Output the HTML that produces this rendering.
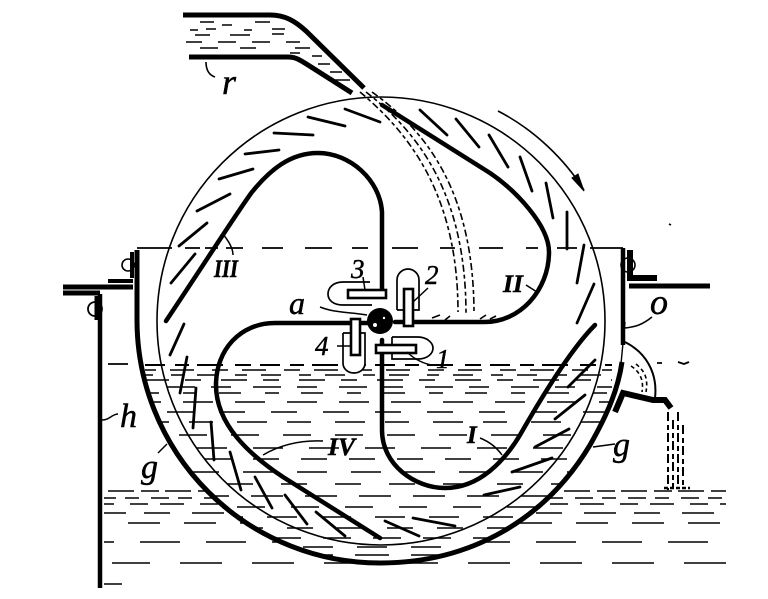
<!DOCTYPE html>
<html><head><meta charset="utf-8"><title>Water wheel diagram</title>
<style>html,body{margin:0;padding:0;background:#fff;width:768px;height:599px;overflow:hidden}svg{display:block}
text{font-family:"Liberation Serif",serif;font-style:italic;fill:#000;stroke:#000;stroke-width:.5}</style></head>
<body>
<svg width="768" height="599" viewBox="0 0 768 599" xmlns="http://www.w3.org/2000/svg">
<defs>
<clipPath id="inH"><path d="M141,362H622C618,390 607,415 590,445C545,520 470,563 380,563A243,243 0 0 1 141,362Z"/></clipPath>
<clipPath id="outH"><path clip-rule="evenodd" d="M100,486H740V599H100Z M137,320A243,243 0 0 0 380,563C470,563 545,520 590,445V320Z"/></clipPath>
</defs>
<rect width="768" height="599" fill="#fff"/>
<!-- inner water -->
<g clip-path="url(#inH)" stroke="#000" stroke-width="1.6" fill="none">
<path stroke-width="2" stroke-dasharray="20 10 14 8 26 12 16 9" d="M145,365H612"/>
<path stroke-dasharray="16 14 24 18" stroke-dashoffset="5" d="M145,370H612"/>
<path stroke-dasharray="20 18 12 14" stroke-dashoffset="12" d="M145,375H612"/>
<path stroke-dasharray="26 16 16 20" stroke-dashoffset="2" d="M145,380H612"/>
<path stroke-dasharray="20 22 28 16" stroke-dashoffset="20" d="M145,387H612"/>
<path stroke-dasharray="22 24 14 22" stroke-dashoffset="8" d="M145,393H612"/>
<path stroke-dasharray="30 22" stroke-dashoffset="14" d="M145,402H612"/>
<path stroke-dasharray="26 26" stroke-dashoffset="30" d="M145,412H612"/>
<path stroke-dasharray="30 20 24 24" stroke-dashoffset="6" d="M145,422H612"/>
<path stroke-dasharray="28 24" stroke-dashoffset="18" d="M145,435H612"/>
<path stroke-dasharray="30 26" stroke-dashoffset="4" d="M145,448H612"/>
<path stroke-dasharray="26 22" stroke-dashoffset="36" d="M145,459H612"/>
<path stroke-dasharray="30 24" stroke-dashoffset="10" d="M145,472H612"/>
<path stroke-dasharray="26 28" stroke-dashoffset="26" d="M145,484H612"/>
<path stroke-dasharray="32 22" stroke-dashoffset="2" d="M145,496H612"/>
<path stroke-dasharray="28 26" stroke-dashoffset="16" d="M145,507H612"/>
<path stroke-dasharray="30 24" stroke-dashoffset="40" d="M145,517H612"/>
<path stroke-dasharray="26 24" stroke-dashoffset="8" d="M145,528H612"/>
<path stroke-dasharray="28 22" stroke-dashoffset="22" d="M145,538H612"/>
<path stroke-dasharray="30 24" stroke-dashoffset="4" d="M145,547H612"/>
<path stroke-dasharray="34 22" stroke-dashoffset="14" d="M145,555H612"/>
</g>
<!-- outer water -->
<g clip-path="url(#outH)" stroke="#000" stroke-width="1.6" fill="none">
<path stroke-dasharray="26 7 18 6" d="M108,491H726"/>
<path stroke-dasharray="18 9 14 12" stroke-dashoffset="6" d="M104,498H726"/>
<path stroke-dasharray="24 16 18 12" stroke-dashoffset="14" d="M104,504H726"/>
<path stroke-dasharray="32 18 26 22" stroke-dashoffset="10" d="M104,513H726"/>
<path stroke-dasharray="32 24" stroke-dashoffset="40" d="M112,523H726"/>
<path stroke-dasharray="40 26" stroke-dashoffset="30" d="M104,542H718"/>
<path stroke-dasharray="42 30" stroke-dashoffset="4" d="M112,563H730"/>
<path d="M104,584H122"/>
</g>
<!-- level dashes -->
<g stroke="#000" stroke-width="1.8" fill="none">
<path d="M137,248H172M185,248H200M205,248H218M226,248H243M262,248H283M305,248H332M352,248H368M392,248H418M440,248H455M479,248H503M526,248H538M557,248H577M590,248H623"/>
<path d="M108,364H128M657,363H662M678,362L684,364L689,362M669,224L671,225"/>
</g>
<!-- wheel -->
<circle cx="381" cy="321" r="224" fill="none" stroke="#000" stroke-width="1.6"/>
<!-- hull -->
<path d="M137,250V320A243,243 0 0 0 380,563C470,563 545,520 590,445C607,415 618,390 622,362" fill="none" stroke="#000" stroke-width="5"/>
<path d="M623,248V345" stroke="#000" stroke-width="4.5" fill="none"/>
<path d="M625,322L621,364" stroke="#000" stroke-width="1.4" fill="none"/>
<!-- blades -->
<g fill="none" stroke="#000" stroke-width="4.5" stroke-linecap="round" stroke-linejoin="round">
<path d="M382,296V212C380,180 350,153 318,153C290,153 270,170 252,192C240,208 210,255 166,321"/>
<path d="M370,323H275C240,323 216,350 216,385C216,425 250,455 283,477L380,538"/>
<path d="M382,340V430C382,465 415,488 445,488C480,488 505,460 520,435C540,400 570,350 595,325"/>
<path d="M395,322H483C520,323 549,290 549,252C549,225 515,190 490,173L382,105"/>
</g>
<!-- vanes -->
<g stroke="#000" stroke-width="2.8" stroke-linecap="round" fill="none">
<path d="M345,109L380,122M308,117L345,126M274,133L313,135M245,154L279,150M219,179L253,169M197,211L230,194M179,246L207,223M171,283L195,254M170,355L184,324M180,393L187,357M193,428L196,388M211,422L214,460M230,452L241,490M255,477L272,508M285,495L307,524M316,512L345,536M385,521L419,536M413,518L455,526M484,495L520,487M512,472L552,458M535,447L569,429M555,419L585,395M568,387L595,360M577,323L594,284M577,283L584,245M567,212V249M546,183L553,218M520,157L532,191M489,135L508,167M456,119L479,147M420,110L447,135"/>
</g>
<!-- trough r -->
<g fill="none" stroke="#000" stroke-linejoin="round">
<path d="M183,15H270C285,15 295,21 306,31L364,88" stroke-width="5"/>
<path d="M189,57H288C296,57 300,60 308,65L352,93" stroke-width="5"/>
<g stroke-width="1.6">
<path d="M200,22H214M222,25H232M255,22H270M190,30H198M206,29H216M244,30H252M272,29H285M195,35H210M230,35H250M272,34H284M186,42H202M218,42H236M252,42H270M286,42H300M200,48H218M240,48H256M295,48H310M290,53H300M312,56H322M318,64H330M330,72H342M335,80H350"/>
</g>
<path d="M206,62C206,70 209,75 215,77" stroke-width="1.6"/>
</g>
<!-- falling water -->
<g fill="none" stroke="#000" stroke-width="1.6" stroke-dasharray="7 3 4 3">
<path d="M360,92C405,130 458,190 458,312"/>
<path d="M366,92C415,130 466,190 466,314"/>
<path d="M372,92C425,130 474,190 474,314"/>
</g>
<path d="M432,318L440,315M445,320L450,316M480,319L486,315M490,319L496,316" stroke="#000" stroke-width="1.6"/>
<!-- arrow -->
<path d="M498,111C535,130 565,160 584,190" fill="none" stroke="#000" stroke-width="1.6"/>
<path d="M584,191L572,178L578,174Z" fill="#000" stroke="#000"/>
<!-- brackets left -->
<g fill="none" stroke="#000">
<path d="M63,287H133" stroke-width="5"/>
<path d="M108,281H133" stroke-width="4"/>
<path d="M63,293H100" stroke-width="5"/>
<path d="M132,252V278" stroke-width="4"/>
<circle cx="128" cy="265" r="6" stroke-width="1.6"/>
<path d="M100,294V588" stroke-width="4.5"/>
<circle cx="95" cy="309" r="7" stroke-width="1.8"/>
<path d="M97,296V320" stroke-width="5"/>
<!-- right bracket -->
<path d="M629,286H710" stroke-width="5"/>
<path d="M630,250V278H657" stroke-width="6"/>
<circle cx="628" cy="265" r="7" stroke-width="1.6"/>
<!-- outlet -->
<path d="M625,342C645,352 658,372 655,398" stroke-width="2"/>
<path d="M615,412L623,393L653,400H665L671,408" stroke-width="6"/>
</g>
<g fill="none" stroke="#000" stroke-width="1.6" stroke-dasharray="4 3"><path d="M631,366C640,372 644,380 642,392"/><path d="M636,364C646,372 648,380 646,392"/></g>
<g fill="none" stroke="#000" stroke-width="2" stroke-dasharray="9 4 5 3">
<path d="M668,412V490"/><path d="M673,420V488"/><path d="M678,412V488"/><path d="M683,425V486"/>
</g>
<path d="M664,488H690" stroke="#000" stroke-width="2.4" stroke-dasharray="4 2"/>
<!-- valves -->
<g fill="#fff" stroke="#000" stroke-width="1.7">
<path d="M370,282H343C333,282 328,288 328,294C328,300 333,305 343,305H372" fill="none"/>
<path d="M397,310V280C397,274 402,269 408,269C414,269 419,274 419,280V310H397"/>
<path d="M343,333V363C343,369 348,373 354,373C360,373 365,369 365,363V333H343"/>
<path d="M392,337H418C427,337 433,343 433,348C433,354 427,359 418,359H392V337"/>
</g>
<g fill="#fff" stroke="#000" stroke-width="2.6">
<rect x="348" y="290" width="38" height="8"/>
<rect x="404" y="289" width="9" height="37"/>
<rect x="351" y="319" width="9" height="36"/>
<rect x="376" y="345" width="40" height="8"/>
</g>
<circle cx="380" cy="321" r="13" fill="#000"/>
<circle cx="375" cy="325" r="2" fill="#fff"/>
<circle cx="384" cy="318" r="1.2" fill="#fff"/>
<!-- leaders -->
<g fill="none" stroke="#000" stroke-width="1.5">
<path d="M320,307C335,313 350,312 367,315"/>
<path d="M652,317C642,325 635,327 625,328"/>
<path d="M526,285L537,292"/>
<path d="M222,233C228,240 233,248 233,255"/>
<path d="M102,420C110,420 112,414 118,414"/>
<path d="M167,444L158,453"/>
<path d="M263,455C280,445 300,440 323,441"/>
<path d="M480,438C490,442 497,448 502,455"/>
<path d="M593,447L615,444"/>
<path d="M407,352C415,360 425,364 432,365"/>
<path d="M428,288L413,302"/>
<path d="M363,277L365,290"/>
<path d="M337,346H350"/>
</g>
<!-- labels -->
<text x="222" y="94" font-size="36">r</text>
<text x="351" y="278" font-size="27">3</text>
<text x="425" y="284" font-size="27">2</text>
<text x="315" y="355" font-size="27">4</text>
<text x="436" y="368" font-size="27">1</text>
<text x="289" y="314" font-size="32">a</text>
<text x="503" y="292" font-size="25" font-weight="bold" textLength="20" lengthAdjust="spacingAndGlyphs">II</text>
<text x="214" y="277" font-size="25" font-weight="bold" textLength="24" lengthAdjust="spacingAndGlyphs">III</text>
<text x="328" y="455" font-size="25" font-weight="bold" textLength="27" lengthAdjust="spacingAndGlyphs">IV</text>
<text x="467" y="443" font-size="25" font-weight="bold">I</text>
<text x="650" y="314" font-size="36">o</text>
<text x="141" y="478" font-size="34">g</text>
<text x="613" y="456" font-size="34">g</text>
<text x="120" y="427" font-size="34">h</text>
</svg>
</body></html>
